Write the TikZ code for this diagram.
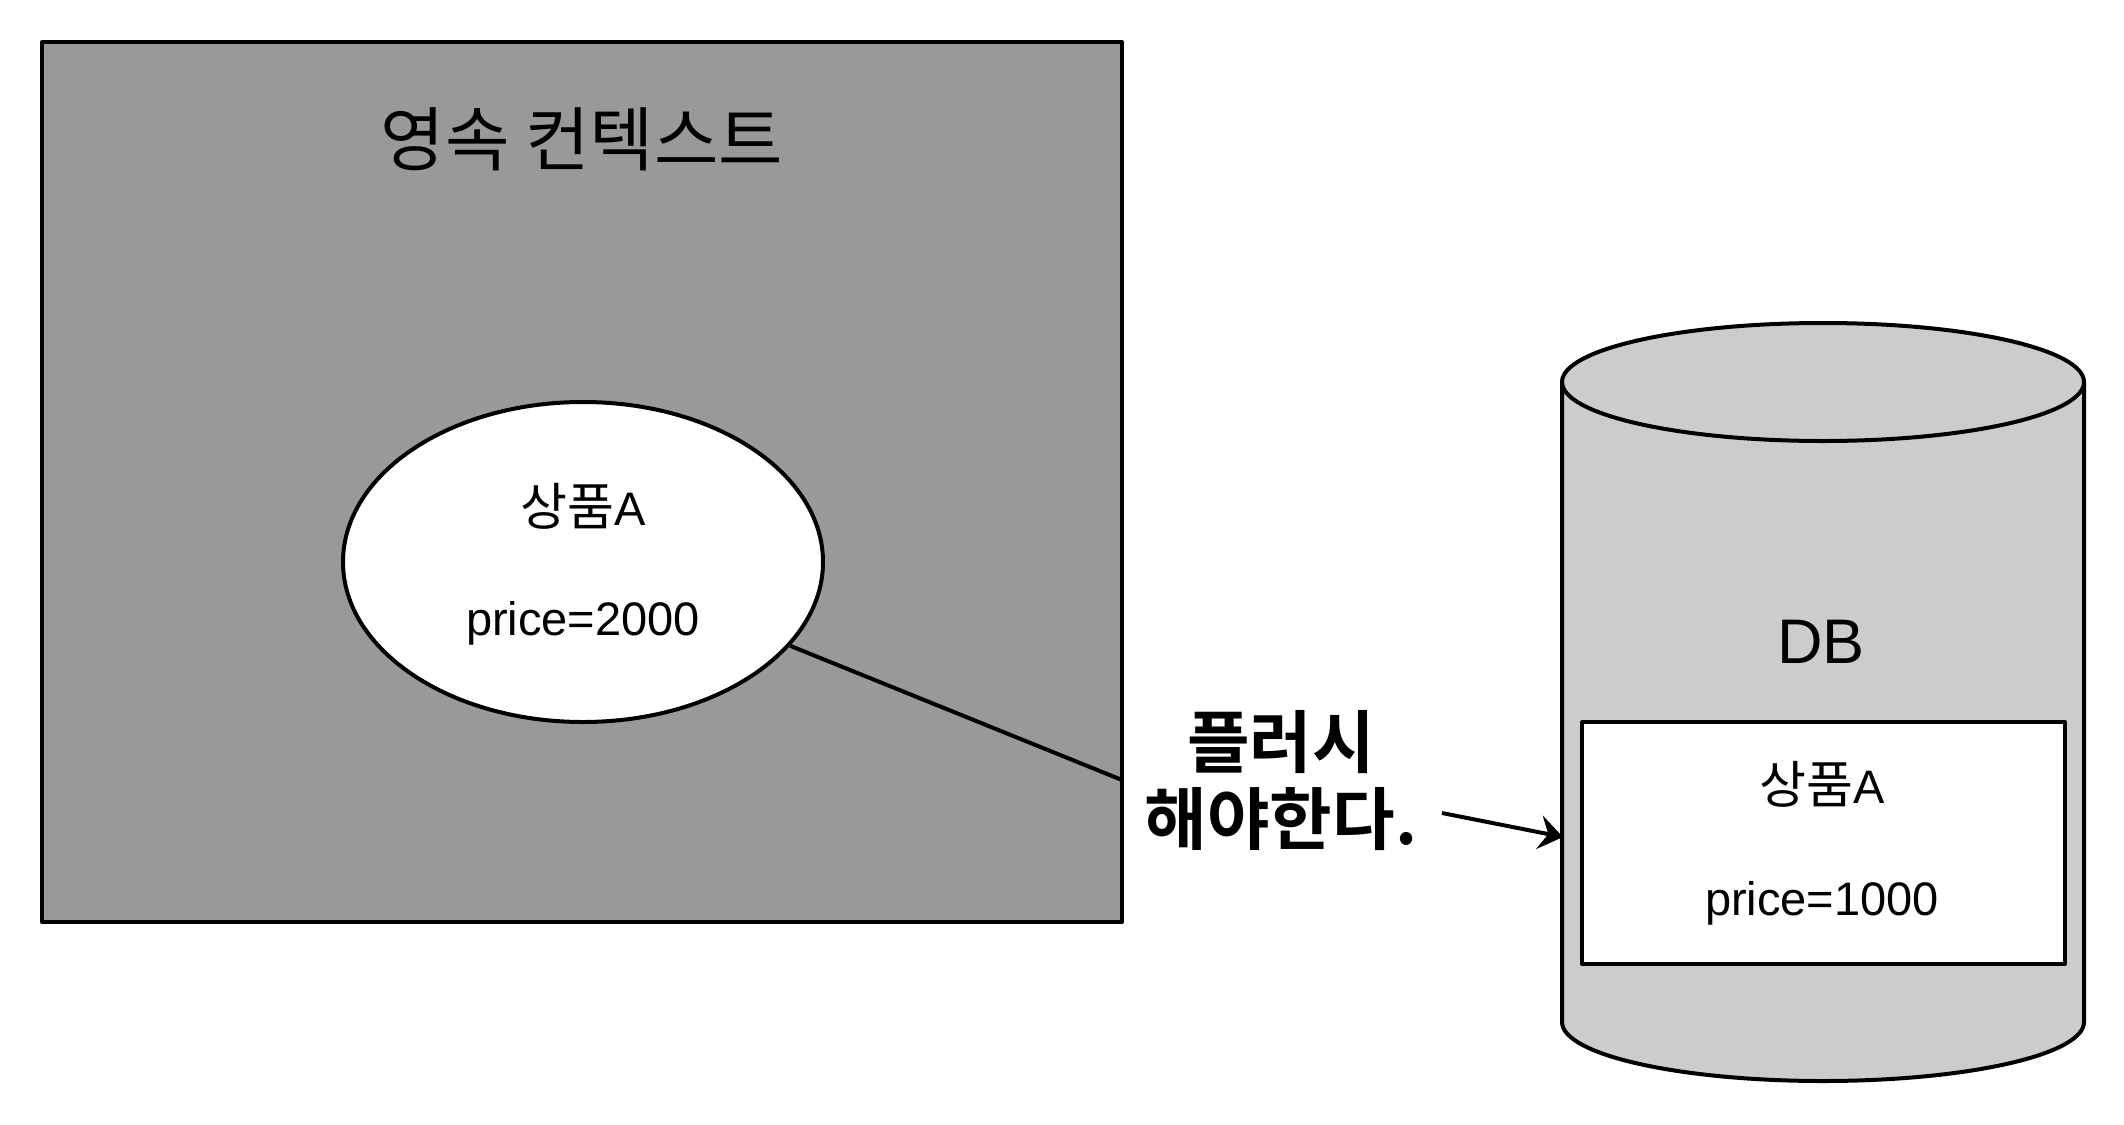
\documentclass[tikz,border=0pt]{standalone}
\usepackage{fontspec}
\setmainfont{Liberation Sans}
\newfontfamily\kr{Noto Sans CJK KR}[BoldFont={Noto Sans CJK KR Bold}]
\usetikzlibrary{arrows.meta,shapes.geometric}
\definecolor{ctxgray}{HTML}{999999}
\definecolor{dbgray}{HTML}{CCCCCC}
\newcommand{\krs}[1]{{\kr\fontsize{51}{56}\selectfont #1}}
\tikzset{
  lbl/.style={inner sep=0pt, font=\fontsize{47}{56}\selectfont},
  box/.style={draw, inner sep=0pt},
}
\begin{document}
\begin{tikzpicture}[x=1pt,y=-1pt,line width=4pt,line join=round]
\useasboundingbox (0,0) rectangle (2124,1124);
% persistence context
\node[box, fill=ctxgray, minimum width=1080pt, minimum height=880pt] (ctx) at (582,482) {};
\node[inner sep=0pt, font=\kr\fontsize{70}{80}\selectfont] (title) at (582,139) {영속 컨텍스트};
% entity ellipse
\node[box, ellipse, fill=white, minimum width=480pt, minimum height=320pt] (ell) at (583,562) {};
\node[lbl, anchor=base] (e1) at (583,525) {\krs{상품}A};
\node[lbl, anchor=base] (e2) at (583,635) {price=2000};
% DB cylinder
\path[draw, fill=dbgray] (1562,382) -- (1562,1022)
  arc[start angle=180, end angle=360, x radius=261pt, y radius=59pt]
  -- (2084,382)
  arc[start angle=0, end angle=180, x radius=261pt, y radius=59pt] -- cycle;
\draw (1562,382) arc[start angle=180, end angle=360, x radius=261pt, y radius=59pt];
\node[inner sep=0pt, anchor=base, font=\fontsize{63}{74}\selectfont] (db) at (1821,663) {DB};
\node[box, fill=white, minimum width=483pt, minimum height=242pt] (rec) at (1823.5,843) {};
\node[lbl, anchor=base] (r1) at (1822,803) {\krs{상품}A};
\node[lbl, anchor=base] (r2) at (1822,915) {price=1000};
% connectors
\coordinate (c1) at (1122,780);
\draw (ell) -- (c1);
\node[inner sep=0pt, align=center, font=\kr\bfseries\fontsize{68}{77}\selectfont] (flush) at (1281,781) {플러시\\해야한다.};
\coordinate (a1) at (1442,813);
\coordinate (a2) at (1563,837);
\draw[-{Stealth[length=24pt,width=34pt,inset=9pt]}] (a1) -- (a2);
\end{tikzpicture}
\end{document}
